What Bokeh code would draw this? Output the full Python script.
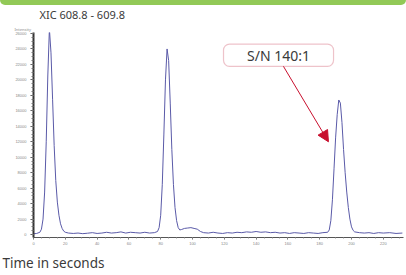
from bokeh.plotting import figure
from bokeh.models import (Div, Label, BoxAnnotation, Arrow, NormalHead, FixedTicker,
                          LinearAxis, Range1d, Title)
from bokeh.layouts import column
from bokeh.embed import file_html
from bokeh.resources import INLINE

# ---- data ----
time_s = [0, 2, 4, 5, 6, 7, 8, 9, 10, 11, 12, 13, 14, 15, 16, 17, 18, 19, 20, 22, 25, 28, 31, 34,
          37, 40, 43, 46, 49, 52, 55, 58, 61, 64, 67, 70, 73, 76, 78, 79, 80, 81, 82, 83, 84, 85,
          86, 87, 88, 89, 90, 91, 92, 93, 95, 97, 99, 101, 103, 105, 107, 110, 113, 116, 119,
          122, 125, 128, 131, 134, 137, 140, 143, 146, 149, 152, 155, 158, 161, 164, 167, 170,
          173, 176, 179, 182, 185, 186, 187, 188, 189, 190, 191, 192, 193, 194, 195, 196, 197,
          198, 199, 200, 201, 202, 205, 208, 211, 214, 217, 220, 224, 228, 232]
intensity = [100, 150, 300, 700, 2000, 5500, 12000, 20500, 26600, 23500, 17500, 11500, 7000, 4200,
             2500, 1400, 800, 450, 300, 200, 150, 200, 120, 180, 250, 150, 200, 300, 200, 250,
             350, 200, 300, 250, 200, 300, 200, 250, 400, 900, 2500, 6500, 13000, 20000, 24000,
             22500, 17000, 11000, 6500, 3500, 1800, 900, 600, 650, 800, 850, 900, 800, 700, 400,
             250, 200, 300, 200, 150, 250, 200, 300, 250, 350, 300, 400, 300, 350, 250, 300, 200,
             250, 150, 250, 200, 150, 250, 200, 150, 250, 300, 600, 1800, 4500, 8500, 12500,
             15500, 17400, 17000, 14500, 11000, 8000, 5500, 3500, 2000, 1000, 550, 350, 250, 200,
             250, 150, 250, 200, 250, 150, 200]
x_ticks = [0, 20, 40, 60, 80, 100, 120, 140, 160, 180, 200, 220]
y_ticks = [0, 2000, 4000, 6000, 8000, 10000, 12000, 14000, 16000, 18000, 20000, 22000, 24000, 26000]
title_text = "XIC 608.8 - 609.8"
ylabel_text = "Intensity"
xlabel_text = "Time in seconds"
sn_text = "S/N 140:1"

FONT = "Noto Sans"
TXT = "#3a3a3a"
W = 406

bar = Div(text="", width=W, height=5, margin=0,
          styles={"background-color": "#92c957", "border-radius": "0 0 6px 6px"})

p = figure(width=W, height=270, output_backend="svg", toolbar_location=None,
           x_range=Range1d(0, 232.7), y_range=Range1d(-375, 26125),
           min_border_left=33, min_border_right=3, min_border_top=25, min_border_bottom=33,
           x_axis_type=None, y_axis_type=None, background_fill_color="white",
           border_fill_color="white", outline_line_color=None, margin=0)
p.grid.visible = False

p.title.text = title_text
p.title.align = "left"
p.title.offset = 6
p.title.vertical_align = "top"
p.title.standoff = 3
p.title.text_font = FONT
p.title.text_font_size = "11px"
p.title.text_font_style = "normal"
p.title.text_color = TXT

p.add_layout(Title(text=ylabel_text, align="left", offset=-19, vertical_align="middle",
                   standoff=0, text_font=FONT, text_font_size="4px",
                   text_font_style="normal", text_color="#888888"), "above")

yax = LinearAxis(ticker=FixedTicker(ticks=y_ticks, minor_ticks=list(range(0, 26001, 500))))
yax.axis_line_color = "#333333"
yax.axis_line_width = 2
yax.major_tick_line_color = "#555555"
yax.major_tick_out = 3
yax.major_tick_in = 0
yax.minor_tick_line_color = "#777777"
yax.minor_tick_out = 2
yax.minor_tick_in = 0
yax.major_label_text_font_size = "4px"
yax.major_label_text_color = "#888888"
yax.major_label_standoff = 4
p.add_layout(yax, "left")

xax = LinearAxis(ticker=FixedTicker(ticks=x_ticks, minor_ticks=list(range(0, 233, 5))))
xax.axis_line_color = "#555555"
xax.axis_line_width = 1
xax.major_tick_line_color = "#666666"
xax.major_tick_out = 2
xax.major_tick_in = 0
xax.minor_tick_line_color = "#999999"
xax.minor_tick_out = 1
xax.minor_tick_in = 0
xax.major_label_text_font_size = "4px"
xax.major_label_text_color = "#888888"
xax.major_label_standoff = 2
p.add_layout(xax, "below")

p.add_layout(Title(text=xlabel_text, align="left", offset=-31, text_font=FONT,
                   text_font_size="13.5px", text_font_style="normal", text_color=TXT,
                   standoff=8), "below")

p.line(time_s, intensity, line_color="#5a5aa8", line_width=1)

# S/N callout
p.add_layout(BoxAnnotation(left=119.5, right=188.7, top=24625, bottom=21750,
                           fill_color="white", fill_alpha=1, line_color="#c8374f",
                           line_width=1.2, border_radius=6))
p.add_layout(Label(x=154.1, y=23187, text=sn_text, text_font=FONT, text_font_size="14px",
                   text_color=TXT, text_align="center", text_baseline="middle"))
p.add_layout(Arrow(x_start=157.2, y_start=21750, x_end=185.5, y_end=12000,
                   line_color="#c8102e", line_width=1,
                   end=NormalHead(size=11, fill_color="#c8102e", line_color="#c8102e")))

layout = column(bar, p, spacing=0, margin=0)

open("out.html", "w").write(file_html(layout, INLINE))
